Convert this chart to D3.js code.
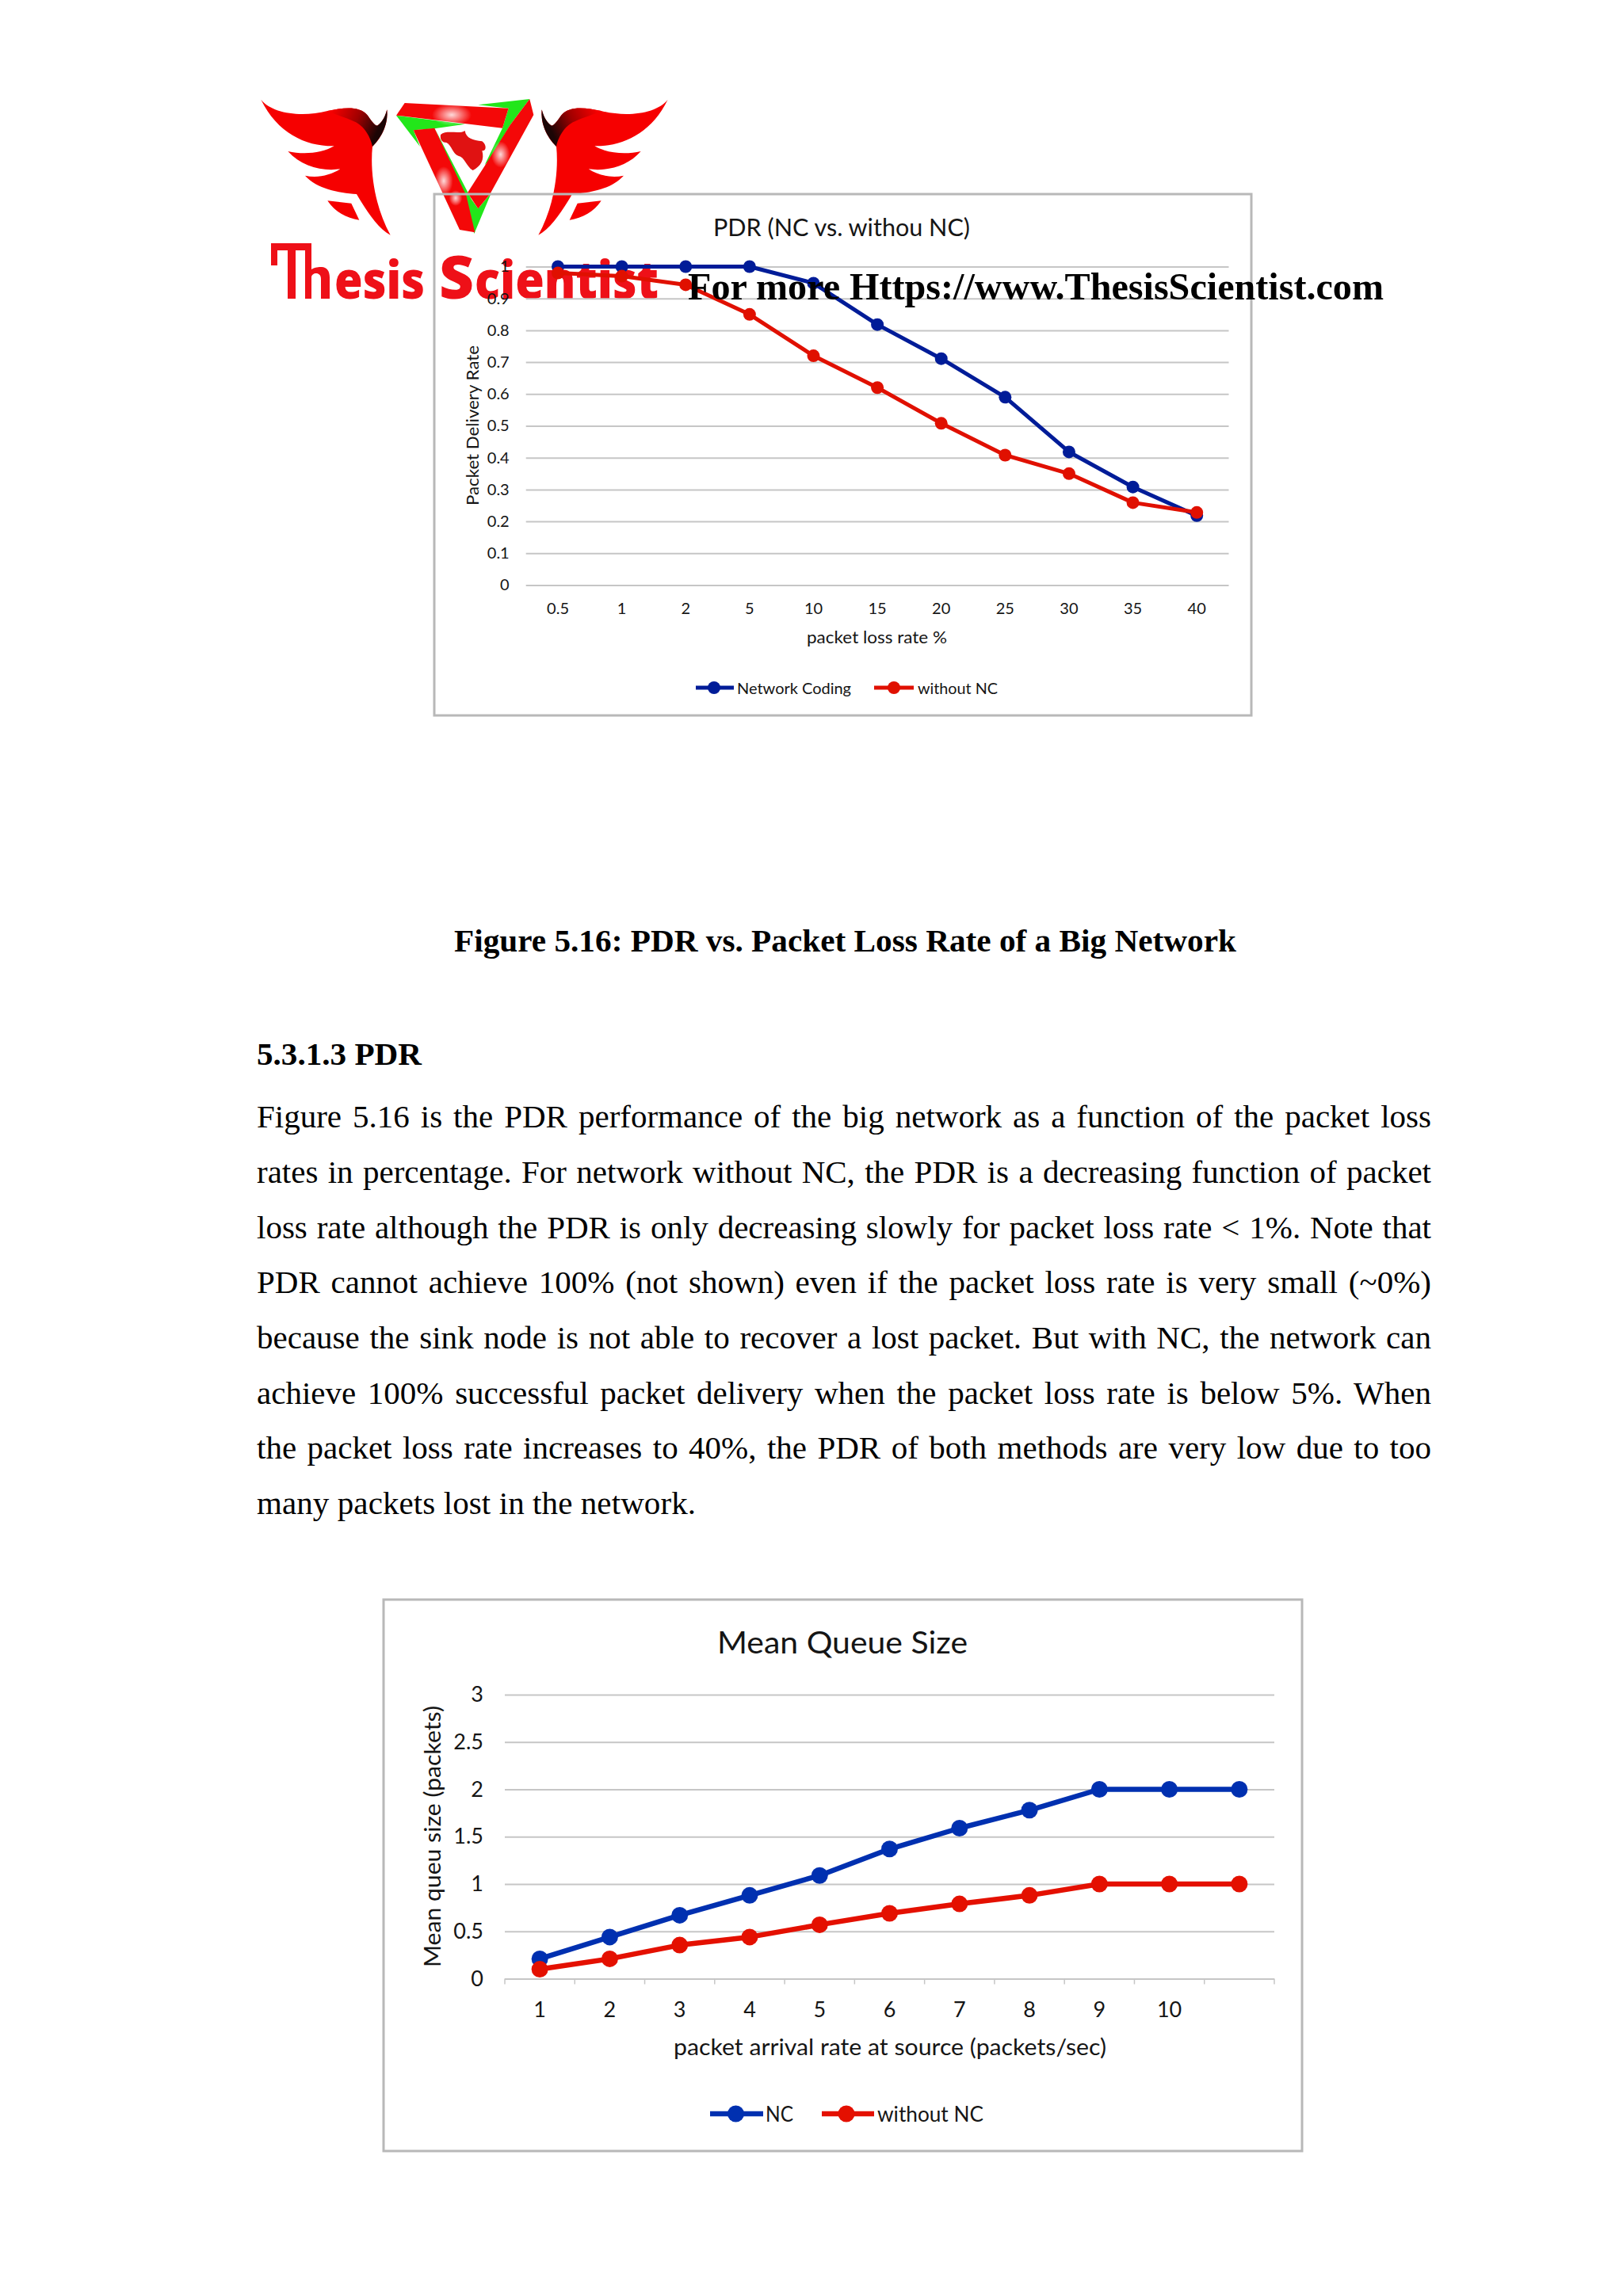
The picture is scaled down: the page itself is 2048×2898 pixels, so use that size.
<!DOCTYPE html>
<html><head><meta charset="utf-8">
<script src="https://cdn.jsdelivr.net/npm/d3@7"></script>
<style>html,body{margin:0;background:#fff}svg{display:block}</style></head>
<body><svg id="page" width="2048" height="2898" viewBox="0 0 2048 2898"></svg>
<script>
// ---- data ----
const pdrCategories = ["0.5","1","2","5","10","15","20","25","30","35","40"];
const pdrNC = [1,1,1,1,0.948,0.818,0.711,0.59,0.418,0.308,0.218];
const pdrWithout = [0.98,0.97,0.943,0.85,0.72,0.62,0.508,0.408,0.35,0.259,0.228];
const pdrTicks = [0,0.1,0.2,0.3,0.4,0.5,0.6,0.7,0.8,0.9,1];
const queueCategories = ["1","2","3","4","5","6","7","8","9","10",""];
const queueNC = [0.21,0.44,0.67,0.88,1.09,1.37,1.59,1.78,2,2,2];
const queueWithout = [0.1,0.21,0.355,0.44,0.57,0.69,0.79,0.88,1,1,1];
const queueTicks = [0,0.5,1,1.5,2,2.5,3];
const bodyLines = [
 "Figure 5.16 is the PDR performance of the big network as a function of the packet loss",
 "rates in percentage. For network without NC, the PDR is a decreasing function of packet",
 "loss rate although the PDR is only decreasing slowly for packet loss rate < 1%. Note that",
 "PDR cannot achieve 100% (not shown) even if the packet loss rate is very small (~0%)",
 "because the sink node is not able to recover a lost packet. But with NC, the network can",
 "achieve 100% successful packet delivery when the packet loss rate is below 5%. When",
 "the packet loss rate increases to 40%, the PDR of both methods are very low due to too",
 "many packets lost in the network."];
const bodyBaselines = [1423,1493,1563,1632,1702,1772,1841,1911];

const svg = d3.select("#page");
const SANS = "Lato, 'Open Sans', sans-serif";
const SERIF = "'Liberation Serif', 'Times New Roman', serif";

function txt(parent, s, x, y, o={}) {
  const t = parent.append("text").attr("x",x).attr("y",y).text(s)
    .attr("font-family",o.family||SANS).attr("font-size",o.size||20)
    .attr("font-weight",o.weight||400).attr("fill",o.fill||"#151515")
    .attr("text-anchor",o.anchor||"start");
  if (o.mid) t.attr("dominant-baseline","central");
  if (o.rotate) t.attr("transform",`rotate(${o.rotate} ${x} ${y})`);
  if (o.width) t.attr("textLength",o.width).attr("lengthAdjust","spacingAndGlyphs");
  return t;
}

// ---- logo ----
const defs = svg.append("defs");
const shine = defs.append("radialGradient").attr("id","shine");
shine.append("stop").attr("offset","0").attr("stop-color","#fff").attr("stop-opacity",0.85);
shine.append("stop").attr("offset","1").attr("stop-color","#fff").attr("stop-opacity",0);
const wd = defs.append("linearGradient").attr("id","wingDark").attr("x1","0").attr("y1","0.3").attr("x2","1").attr("y2","0.6");
wd.append("stop").attr("offset","0").attr("stop-color","#f60000");
wd.append("stop").attr("offset","0.45").attr("stop-color","#a00000");
wd.append("stop").attr("offset","0.85").attr("stop-color","#1c0505");

const wing = "M28,32 C70,85 180,100 280,75 C340,62 400,55 430,90 C445,110 460,135 470,130 C490,115 500,90 505,70 C510,120 490,170 450,210 C440,310 460,440 518,545 C470,520 425,450 390,390 C320,385 240,370 195,320 C240,330 290,320 328,295 C260,305 180,285 130,228 C190,242 260,235 305,208 C200,210 90,160 28,32 Z M280,415 L370,425 L400,488 C350,480 305,455 280,415 Z";
const wingShade = "M280,75 C340,62 400,55 430,90 C445,110 460,135 470,130 C490,115 500,90 505,70 C510,120 490,170 450,210 C445,180 420,130 380,115 C350,100 310,90 280,75 Z";
[ "translate(320,115) scale(0.3333)", "translate(1172,0) scale(-1,1) translate(320,115) scale(0.3333)" ].forEach(tf=>{
  const w = svg.append("g").attr("transform",tf);
  w.append("path").attr("d",wing).attr("fill","#f60000");
  w.append("path").attr("d",wingShade).attr("fill","url(#wingDark)");
});

const tri = svg.append("g").attr("transform","translate(480,115) scale(0.3333)");
const RED="#f40808", GRN="#22e61a";
[
 ["M370,52 L565,30 L490,130 L410,265 L395,280 L462,140 L485,65 Z",GRN],
 ["M60,92 L320,125 L205,142 L125,148 L150,210 Z",GRN],
 ["M205,140 L345,410 L370,445 L420,385 L355,540 L320,400 Z",GRN],
 ["M60,92 L92,45 L485,65 L462,140 Z",RED],
 ["M565,30 L580,90 L415,390 L370,445 L330,385 L400,275 L490,130 Z",RED],
 ["M125,148 L205,140 L325,395 L358,535 L300,525 Z",RED],
 ["M228,165 C250,145 300,165 320,150 C325,180 350,185 385,190 C405,205 400,230 385,225 C395,260 380,285 350,300 C325,285 320,250 295,245 C275,240 270,205 250,195 C235,195 225,185 228,165 Z","#e01212"]
].forEach(d=>tri.append("path").attr("d",d[0]).attr("fill",d[1]));
[[270,90,75,42],[240,340,35,55],[455,240,35,50],[285,405,25,30]].forEach(e=>
  tri.append("ellipse").attr("cx",e[0]).attr("cy",e[1]).attr("rx",e[2]).attr("ry",e[3]).attr("fill","url(#shine)"));

// logo lettering: the "Th" ligature is a drawn shape, the rest is text
svg.append("path").attr("fill","#ee1018")
  .attr("d","M342,307 H393 V340 C398,337 402,337 406,337 C412,337 416,342 416,350 V377 H405 V352 C405,347 402,345 399,345 C396,345 393,347 393,350 V377 H385 V316 H373 V377 H363 V316 H350 V335 H342 Z");
const LOGO="'Open Sans',sans-serif";
txt(svg,"esis",422,377,{family:LOGO,size:66,weight:800,fill:"#ee1018",width:114});
txt(svg,"S",554,377,{family:LOGO,size:74,weight:800,fill:"#ee1018",width:44});
txt(svg,"cientist",599,377,{family:LOGO,size:66,weight:800,fill:"#ee1018",width:232});

// ---- chart drawing ----
function drawChart(c) {
  const g = svg.append("g");
  g.append("rect").attr("x",c.frame[0]).attr("y",c.frame[1])
    .attr("width",c.frame[2]-c.frame[0]).attr("height",c.frame[3]-c.frame[1])
    .attr("fill","none").attr("stroke","#b8b8b8").attr("stroke-width",c.frameW);
  const x = d3.scaleBand().domain(c.cats.map((d,i)=>i)).range(c.xr);
  const y = d3.scaleLinear().domain(c.yd).range(c.yr);
  const cx = i => x(i)+x.bandwidth()/2;

  const ya = g.append("g").attr("transform",`translate(${c.xr[0]},0)`)
    .call(d3.axisLeft(y).tickValues(c.ticks).tickSize(-(c.xr[1]-c.xr[0])).tickPadding(c.yPad).tickFormat(d=>String(d)));
  ya.select(".domain").remove();
  ya.selectAll(".tick line").attr("stroke","#c6c6c6").attr("stroke-width",c.gridW);
  ya.selectAll("text").attr("font-family",SANS).attr("font-size",c.tick).attr("fill","#151515");

  const xa = g.append("g").attr("transform",`translate(0,${c.yr[0]})`)
    .call(d3.axisBottom(x).tickFormat(i=>c.cats[i]).tickSize(0).tickPadding(c.xPad));
  xa.select(".domain").remove();
  xa.selectAll("text").attr("font-family",SANS).attr("font-size",c.tick).attr("fill","#151515");
  if (c.xTicks) {
    const edges = c.cats.map((d,i)=>x(i)).concat([c.xr[1]]);
    g.selectAll(".xedge").data(edges).join("line").attr("class","xedge")
      .attr("x1",d=>d).attr("x2",d=>d).attr("y1",c.yr[0]).attr("y2",c.yr[0]+7)
      .attr("stroke","#c6c6c6").attr("stroke-width",1.5);
  }
  c.series.forEach(s=>{
    const line = d3.line().x((d,i)=>cx(i)).y(d=>y(d));
    g.append("path").attr("d",line(s.values)).attr("fill","none")
      .attr("stroke",s.color).attr("stroke-width",c.lineW).attr("stroke-linejoin","round");
    g.selectAll(null).data(s.values).join("circle")
      .attr("cx",(d,i)=>cx(i)).attr("cy",d=>y(d)).attr("r",c.r).attr("fill",s.color);
  });
  txt(g,c.title,c.titlePos[0],c.titlePos[1],{size:c.titleSize,mid:1,width:c.titlePos[2]});
  txt(g,c.xTitle,c.xTitlePos[0],c.xTitlePos[1],{size:c.axisSize,mid:1,width:c.xTitlePos[2]});
  txt(g,c.yTitle,c.yTitlePos[0],c.yTitlePos[1],{size:c.axisSize,mid:1,anchor:"middle",rotate:-90,width:c.yTitlePos[2]});
  c.series.forEach(s=>{
    const l=s.legend;
    g.append("line").attr("x1",l.x1).attr("x2",l.x2).attr("y1",c.legendY).attr("y2",c.legendY)
      .attr("stroke",s.color).attr("stroke-width",c.lineW);
    g.append("circle").attr("cx",l.m).attr("cy",c.legendY).attr("r",c.r).attr("fill",s.color);
    txt(g,s.name,l.tx,c.legendY,{size:c.legendSize,mid:1,width:l.tw});
  });
}

drawChart({
  frame:[548,245,1579,903],frameW:3,gridW:2,xr:[663.7,1550.5],yr:[738.5,336.5],yd:[0,1],
  cats:pdrCategories,ticks:pdrTicks,tick:20,yPad:21,xPad:22,lineW:5,r:8,
  title:"PDR (NC vs. withou NC)",titlePos:[900,286,324],titleSize:30,
  xTitle:"packet loss rate %",xTitlePos:[1018,803,177],yTitle:"Packet Delivery Rate",yTitlePos:[595,537,202],axisSize:22,
  legendY:868,legendSize:20,
  series:[
    {name:"Network Coding",values:pdrNC,color:"#001c98",legend:{x1:878,x2:926,m:901,tx:930,tw:144}},
    {name:"without NC",values:pdrWithout,color:"#e01000",legend:{x1:1103,x2:1153,m:1128,tx:1158,tw:101}}
  ]});
drawChart({
  frame:[484,2019,1643,2715],frameW:3,gridW:2,xr:[637,1608],yr:[2497.5,2139],yd:[0,3],
  cats:queueCategories,ticks:queueTicks,tick:27,yPad:27,xPad:29,lineW:6.5,r:10.5,xTicks:true,
  title:"Mean Queue Size",titlePos:[905,2072,316],titleSize:38,
  xTitle:"packet arrival rate at source (packets/sec)",xTitlePos:[850,2583,546],yTitle:"Mean queu size (packets)",yTitlePos:[545,2318,330],axisSize:28,
  legendY:2668,legendSize:26,
  series:[
    {name:"NC",values:queueNC,color:"#0030b0",legend:{x1:896,x2:963,m:928.5,tx:966,tw:35}},
    {name:"without NC",values:queueWithout,color:"#e41000",legend:{x1:1037,x2:1103,m:1068,tx:1107,tw:134}}
  ]});

// ---- page text ----
txt(svg,"For more Https://www.ThesisScientist.com",868,378,{family:SERIF,size:48,weight:700,fill:"#000",width:878});
txt(svg,"Figure 5.16: PDR vs. Packet Loss Rate of a Big Network",573,1201,{family:SERIF,size:41,weight:700,fill:"#000",width:987});
txt(svg,"5.3.1.3 PDR",324,1344,{family:SERIF,size:41,weight:700,fill:"#000",width:208});
const LEFT=324, RIGHT=1806;
bodyLines.forEach((s,i)=>{
  const t = txt(svg,s,LEFT,bodyBaselines[i],{family:SERIF,size:41,fill:"#000"});
  if (i<bodyLines.length-1) {
    const gaps = s.split(" ").length-1;
    t.attr("word-spacing",(RIGHT-LEFT-t.node().getComputedTextLength())/gaps);
  } else {
    t.attr("textLength",554).attr("lengthAdjust","spacing");
  }
});
</script></body></html>
